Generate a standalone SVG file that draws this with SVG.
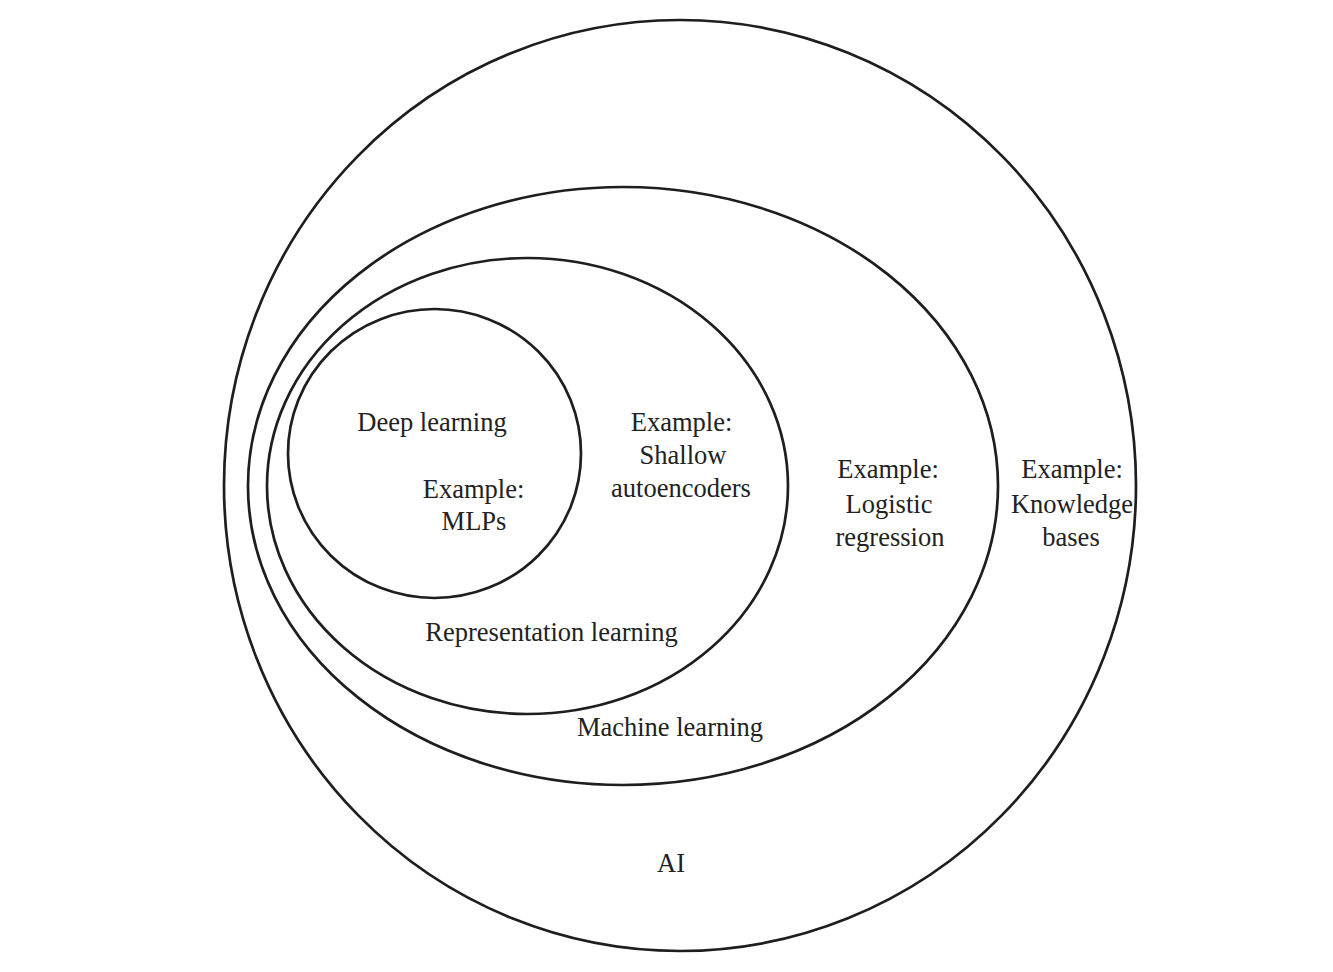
<svg xmlns="http://www.w3.org/2000/svg" width="1333" height="972" viewBox="0 0 1333 972">
<style>
.set{fill:none;stroke:#1e1e1e;stroke-width:2.7}
.t{font-family:"Liberation Serif","DejaVu Serif",serif;font-size:26.5px;fill:#222;text-anchor:middle}
</style>
<rect width="1333" height="972" fill="#fff"/>
<g id="ai">
<ellipse class="set" cx="680" cy="485.5" rx="456" ry="465.5"/>
<text class="t" x="671" y="872">AI</text>
<text class="t" x="1072" y="478">Example:</text>
<text class="t" x="1072" y="513">Knowledge</text>
<text class="t" x="1071" y="546">bases</text>
</g>
<g id="machine-learning">
<ellipse class="set" cx="623" cy="486" rx="375" ry="299"/>
<text class="t" x="670" y="736">Machine learning</text>
<text class="t" x="888" y="478">Example:</text>
<text class="t" x="889" y="513">Logistic</text>
<text class="t" x="890" y="546">regression</text>
</g>
<g id="representation-learning">
<ellipse class="set" cx="527.5" cy="486" rx="260.5" ry="228"/>
<text class="t" x="551.5" y="641">Representation learning</text>
<text class="t" x="681.5" y="431">Example:</text>
<text class="t" x="683" y="464">Shallow</text>
<text class="t" x="681" y="497">autoencoders</text>
</g>
<g id="deep-learning">
<ellipse class="set" cx="434.5" cy="453.5" rx="146.5" ry="144.5"/>
<text class="t" x="432" y="431">Deep learning</text>
<text class="t" x="473.5" y="498">Example:</text>
<text class="t" x="474" y="530">MLPs</text>
</g>
<g id="connectors"></g>
</svg>
